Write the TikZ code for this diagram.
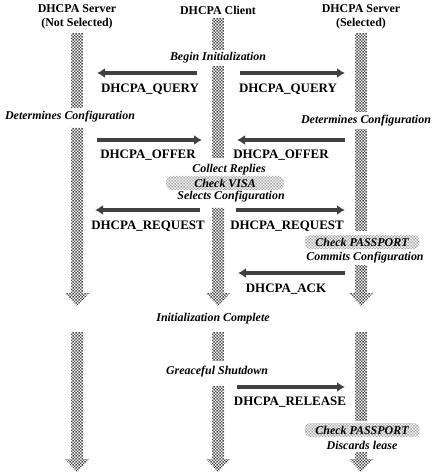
\documentclass[tikz,border=0pt]{standalone}
\usepackage{fontspec}
\setmainfont{Liberation Serif}
\usetikzlibrary{arrows.meta,patterns.meta}

\tikzdeclarepattern{
  name=chk,
  type=uncolored,
  bottom left={(0pt,0pt)},
  top right={(3pt,3pt)},
  tile size={(3pt,3pt)},
  code={
    \fill (0pt,0pt) rectangle (1.5pt,1.5pt);
    \fill (1.5pt,1.5pt) rectangle (3pt,3pt);
  }
}

\tikzset{
  life/.style={pattern=chk, pattern color=black!70},
  msg/.style={line width=4.5bp, draw=black!75, -{Latex[length=8bp,width=10bp]}},
  hdr/.style={font=\fontsize{12}{13.5}\selectfont\bfseries, align=center},
  lbl/.style={font=\fontsize{13}{14}\selectfont\bfseries},
  note/.style={font=\fontsize{12}{13}\selectfont\bfseries\itshape, inner sep=1bp},
  check/.style={note, rounded corners=6bp, pattern=chk, pattern color=black!35,
    minimum height=14bp, inner xsep=6bp}
}

\begin{document}
\begin{tikzpicture}[x=1bp,y=-1bp]
        \useasboundingbox (0,0) rectangle (433,475);
        % lifelines
        \foreach \x/\ya/\yb in {77/34/108, 218/18/50, 218/66/158, 361/34/112,
            361/130/230, 218/332/360, 361/332/420} {
            \fill[life] (\x-6,\ya) rectangle (\x+6,\yb);
        };
        \foreach \x/\ya/\yb in {77/128/306, 218/208/306, 361/265/306,
            77/332/472, 218/386/472, 361/452/472} {
            \fill[life] (\x-6,\ya) -- (\x-6,\yb-13) -- (\x-12,\yb-13) -- (\x,\yb)
                -- (\x+12,\yb-13) -- (\x+6,\yb-13) -- (\x+6,\ya) -- cycle;
        };
        % headers
        \node[hdr] (hl) at (77,17) {DHCPA Server\\(Not Selected)};
        \node[hdr] (hc) at (218,10) {DHCPA Client};
        \node[hdr] (hr) at (361,17) {DHCPA Server\\(Selected)};
        % notes
        \node[note] (begin) at (218,58) {Begin Initialization};
        \node[note] (detl) at (70,117) {Determines Configuration};
        \node[note] (detr) at (366,121) {Determines Configuration};
        \node[note] (collect) at (229,170) {Collect Replies};
        \node[check, minimum width=118bp] (visa) at (225,183) {Check VISA};
        \node[note] (selects) at (231,197) {Selects Configuration};
        \node[check, minimum width=115bp] (pass1) at (362,242) {Check PASSPORT};
        \node[note] (commits) at (365,258) {Commits Configuration};
        \node[note] (initc) at (213,319) {Initialization Complete};
        \node[note] (shut) at (217,372) {Greaceful Shutdown};
        \node[check, minimum width=115bp] (pass2) at (362,430) {Check PASSPORT};
        \node[note] (discards) at (362,445) {Discards lease};
        % messages
        \coordinate (q1a) at (197,73);
        \coordinate (q1b) at (97,73);
        \coordinate (q2a) at (240,73);
        \coordinate (q2b) at (345,73);
        \coordinate (o1a) at (97,140);
        \coordinate (o1b) at (202,140);
        \coordinate (o2a) at (345,140);
        \coordinate (o2b) at (237,140);
        \coordinate (r1a) at (200,210);
        \coordinate (r1b) at (95,210);
        \coordinate (r2a) at (236,210);
        \coordinate (r2b) at (345,210);
        \coordinate (ka) at (345,273);
        \coordinate (kb) at (238,273);
        \coordinate (la) at (237,387);
        \coordinate (lb) at (345,387);
        \foreach \a/\b in {q1a/q1b, q2a/q2b, o1a/o1b, o2a/o2b, r1a/r1b, r2a/r2b, ka/kb, la/lb} {
            \draw[msg] (\a) -- (\b);
        };
        \node[lbl] (qryl) at (150,89) {DHCPA\_QUERY};
        \node[lbl] (qryr) at (288,89) {DHCPA\_QUERY};
        \node[lbl] (offl) at (148,155) {DHCPA\_OFFER};
        \node[lbl] (offr) at (281,155) {DHCPA\_OFFER};
        \node[lbl] (reql) at (148,226) {DHCPA\_REQUEST};
        \node[lbl] (reqr) at (287,226) {DHCPA\_REQUEST};
        \node[lbl] (ack) at (286,289) {DHCPA\_ACK};
        \node[lbl] (rel) at (290,402) {DHCPA\_RELEASE};
\end{tikzpicture}
\end{document}
